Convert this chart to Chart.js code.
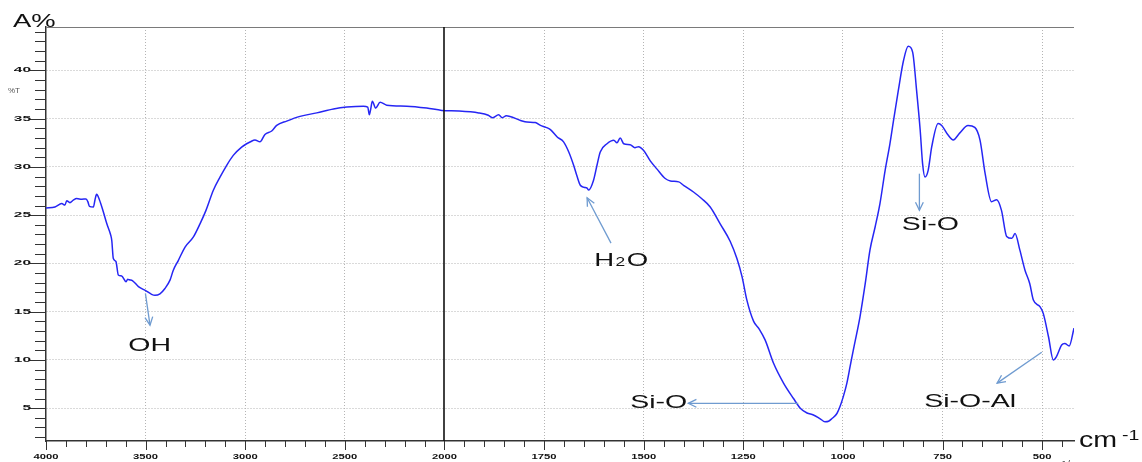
<!DOCTYPE html>
<html>
<head>
<meta charset="utf-8">
<title>FTIR spectrum</title>
<script src="https://cdn.jsdelivr.net/npm/chart.js@4.4.1/dist/chart.umd.min.js"></script>
<style>
  html, body { margin: 0; padding: 0; background: #fff; }
  canvas { display: block; }
</style>
</head>
<body>
<canvas id="ftirChart" width="1142" height="462"></canvas>
<script>
const ctx = document.getElementById('ftirChart').getContext('2d');

// Spectrum: wavenumber (cm-1) and transmittance (%T)
const wavenumbers = [
  4000, 3955, 3921, 3905, 3896, 3880, 3863, 3846, 3820, 3799, 3790, 3782, 3762, 3754, 3746, 3732,
  3712, 3695, 3675, 3670, 3662, 3649, 3637, 3620, 3598, 3590, 3582, 3565, 3536, 3498, 3470, 3453,
  3428, 3403, 3377, 3361, 3336, 3302, 3260, 3227, 3197, 3160, 3126, 3093, 3060, 3018, 2993, 2976,
  2951, 2926, 2901, 2867, 2842, 2792, 2725, 2641, 2557, 2490, 2407, 2385, 2377, 2370, 2362, 2345,
  2323, 2290, 2189, 2089, 2013, 1964, 1914, 1890, 1880, 1864, 1855, 1845, 1809, 1793, 1772, 1759,
  1745, 1734, 1717, 1701, 1688, 1676, 1667, 1659, 1650, 1642, 1638, 1626, 1617, 1609, 1592, 1575,
  1567, 1559, 1550, 1534, 1522, 1513, 1500, 1483, 1467, 1446, 1433, 1412, 1400, 1375, 1354, 1333,
  1308, 1283, 1266, 1253, 1241, 1224, 1210, 1195, 1174, 1149, 1124, 1107, 1090, 1074, 1057, 1045,
  1036, 1028, 1015, 1007, 999, 990, 982, 974, 969, 957, 944, 932, 919, 907, 894, 882,
  873, 861, 848, 836, 825, 815, 806, 800, 794, 786, 777, 761, 752, 736, 723, 707,
  686, 669, 656, 643, 627, 614, 602, 589, 576, 568, 556, 543, 531, 522, 505, 497,
  484, 472, 464, 451, 443, 432, 420
];
const transmittance = [
  25.75, 25.85, 26.2, 26.05, 26.5, 26.3, 26.55, 26.72, 26.65, 26.68, 26.4, 25.92, 25.85, 26.6, 27.16, 26.6,
  25.33, 24.13, 22.92, 22.4, 20.5, 20.2, 18.8, 18.7, 18.1, 18.35, 18.3, 18.2, 17.6, 17.16, 16.8, 16.7,
  16.85, 17.4, 18.3, 19.3, 20.3, 21.7, 22.75, 24.1, 25.5, 27.58, 28.96, 30.17, 31.2, 32.06, 32.4, 32.58,
  32.8, 32.6, 33.37, 33.72, 34.3, 34.75, 35.24, 35.6, 36.0, 36.2, 36.3, 36.2, 35.4, 36.0, 36.8, 36.1,
  36.7, 36.4, 36.3, 36.1, 35.86, 35.8, 35.6, 35.35, 35.1, 35.4, 35.1, 35.3, 34.82, 34.65, 34.6, 34.3,
  34.1, 33.86, 33.1, 32.6, 31.55, 30.2, 29.0, 28.1, 27.9, 27.8, 27.6, 28.6, 30.2, 31.55, 32.4, 32.76,
  32.5, 33.0, 32.4, 32.3, 32.0, 32.1, 31.7, 30.6, 29.8, 28.8, 28.55, 28.45, 28.1, 27.4, 26.7, 25.85,
  24.1, 22.3, 20.5, 18.6, 16.2, 14.0, 13.2, 12.05, 9.65, 7.6, 6.0, 5.0, 4.5, 4.3, 3.9, 3.6,
  3.65, 3.9, 4.45, 5.2, 6.2, 7.6, 9.3, 11.0, 12.0, 14.5, 17.9, 21.4, 23.8, 26.2, 29.65, 32.4,
  34.8, 37.9, 41.0, 42.5, 41.9, 37.9, 33.8, 30.35, 28.96, 29.65, 32.1, 34.5, 34.3, 33.3, 32.8, 33.5,
  34.3, 34.1, 32.8, 29.3, 26.4, 26.6, 25.5, 22.8, 22.6, 23.1, 21.4, 19.3, 17.9, 16.2, 15.5, 14.8,
  12.4, 10.0, 10.35, 11.55, 11.7, 11.45, 13.3
];

const xTickLabels = [4000, 3500, 3000, 2500, 2000, 1750, 1500, 1250, 1000, 750, 500];
const yTickLabels = [5, 10, 15, 20, 25, 30, 35, 40];

// band labels: text anchor and arrow (from -> to), in cm-1 / %T
const bands = [
  { text: 'OH',      at: [3587, 10.94], from: [3501, 16.9], to: [3478, 13.6] },
  { text: 'H2O',     at: [1624, 19.76], from: [1582, 22.1], to: [1642, 26.8] },
  { text: 'Si-O',    at: [852, 23.5],   from: [808, 29.3],  to: [808, 25.5] },
  { text: 'Si-O',    at: [1534, 5.0],   from: [1112, 5.5],  to: [1388, 5.5] },
  { text: 'Si-O-Al', at: [796, 5.08],   from: [501, 10.8],  to: [613, 7.6] }
];

// the wavenumber axis is expanded 2x below 2000 cm-1
function toPos(w) {
  return w >= 2000 ? 4000 - w : 2000 + 2 * (2000 - w);
}

const FONT = '"Liberation Sans", Arial, sans-serif';

function line(c, x1, y1, x2, y2) {
  c.beginPath();
  c.moveTo(x1, y1);
  c.lineTo(x2, y2);
  c.stroke();
}

// the source picture has horizontally stretched lettering
function wideText(c, text, x, y, sx, align) {
  c.save();
  c.translate(x, y);
  c.scale(sx, 1);
  c.textAlign = align;
  c.fillText(text, 0, 0);
  c.restore();
}

function arrow(c, x1, y1, x2, y2) {
  line(c, x1, y1, x2, y2);
  const ang = Math.atan2(y2 - y1, x2 - x1);
  const len = 9, spread = 0.45;
  c.beginPath();
  c.moveTo(x2 - len * Math.cos(ang - spread), y2 - len * Math.sin(ang - spread));
  c.lineTo(x2, y2);
  c.lineTo(x2 - len * Math.cos(ang + spread), y2 - len * Math.sin(ang + spread));
  c.stroke();
}

const spectrumDecor = {
  id: 'spectrumDecor',
  afterDraw(chart) {
    const { ctx: c, chartArea: a, scales: { x, y } } = chart;
    c.save();

    // top frame
    c.strokeStyle = '#7a7a7a';
    c.lineWidth = 1;
    line(c, a.left, a.top + 0.5, a.right, a.top + 0.5);

    // split line at 2000 cm-1
    const xs = Math.round(x.getPixelForValue(toPos(2000)));
    c.strokeStyle = '#111';
    c.lineWidth = 1.6;
    line(c, xs, a.top, xs, a.bottom);

    // major and minor ticks
    c.strokeStyle = '#333';
    c.lineWidth = 1;
    for (let t = 0; t <= x.max; t += 100) {
      const px = Math.round(x.getPixelForValue(t)) + 0.5;
      line(c, px, a.bottom, px, a.bottom + (t % 500 === 0 ? 9 : 6));
    }
    for (let v = 2; v <= 44; v++) {
      const py = Math.round(y.getPixelForValue(v)) + 0.5;
      line(c, a.left, py, a.left - (v % 5 === 0 ? 16 : 11), py);
    }

    // tick labels
    c.fillStyle = '#111';
    c.textBaseline = 'middle';
    c.font = 'bold 7.5px ' + FONT;
    xTickLabels.forEach(w => wideText(c, String(w), x.getPixelForValue(toPos(w)), 457, 1.5, 'center'));
    c.font = 'bold 7px ' + FONT;
    yTickLabels.forEach(v => wideText(c, String(v), 31, y.getPixelForValue(v), 2.2, 'right'));

    // axis titles
    c.textBaseline = 'alphabetic';
    c.fillStyle = '#111';
    c.font = '19px ' + FONT;
    wideText(c, 'A%', 13, 27, 1.44, 'left');
    c.font = '8px ' + FONT;
    c.fillStyle = '#555';
    wideText(c, '%T', 8, 93, 1, 'left');
    c.fillStyle = '#111';
    c.font = '22px ' + FONT;
    wideText(c, 'cm', 1079, 447, 1.3, 'left');
    c.font = '15px ' + FONT;
    wideText(c, '-1', 1122, 440, 1.3, 'left');
    c.font = '9px ' + FONT;
    c.fillStyle = '#444';
    wideText(c, '1/cm', 1061, 467, 1.2, 'left');

    // band arrows and labels
    c.strokeStyle = '#6f9bd0';
    c.lineWidth = 1.3;
    bands.forEach(b => {
      arrow(c,
        x.getPixelForValue(toPos(b.from[0])), y.getPixelForValue(b.from[1]),
        x.getPixelForValue(toPos(b.to[0])), y.getPixelForValue(b.to[1]));
    });
    c.fillStyle = '#111';
    bands.forEach(b => {
      const px = x.getPixelForValue(toPos(b.at[0]));
      const py = y.getPixelForValue(b.at[1]);
      if (b.text === 'H2O') {
        // small "2", sitting on the baseline
        c.save();
        c.translate(px, py);
        c.scale(1.45, 1);
        c.textAlign = 'left';
        c.font = '19px ' + FONT;
        c.fillText('H', 0, 0);
        let off = c.measureText('H').width + 1;
        c.font = '12px ' + FONT;
        c.fillText('2', off, 0);
        off += c.measureText('2').width + 1;
        c.font = '19px ' + FONT;
        c.fillText('O', off, 0);
        c.restore();
      } else {
        c.font = '19px ' + FONT;
        wideText(c, b.text, px, py, 1.5, 'left');
      }
    });

    c.restore();
  }
};

const points = wavenumbers.map((w, i) => ({ x: toPos(w), y: transmittance[i] }));

const ftirChart = new Chart(ctx, {
  type: 'line',
  data: {
    datasets: [{
      data: points,
      borderColor: '#2626f4',
      borderWidth: 1.5,
      pointRadius: 0,
      fill: false,
      cubicInterpolationMode: 'monotone'
    }]
  },
  options: {
    responsive: false,
    animation: false,
    layout: { padding: { left: 0, top: 27, right: 68, bottom: 0 } },
    plugins: {
      legend: { display: false },
      tooltip: { enabled: false }
    },
    scales: {
      x: {
        type: 'linear',
        min: 0,
        max: toPos(420),
        afterBuildTicks: s => { s.ticks = xTickLabels.map(w => ({ value: toPos(w) })); },
        afterFit: s => { s.height = 21; },
        ticks: { display: false },
        grid: {
          drawTicks: false,
          lineWidth: 1,
          color: c => (c.tick && (c.tick.value === 0 || c.tick.value === 2000)) ? 'rgba(0,0,0,0)' : '#b4b4b4'
        },
        border: { display: true, color: '#333', width: 1.5, dash: [1, 2] }
      },
      y: {
        type: 'linear',
        min: 1.6,
        max: 44.5,
        afterBuildTicks: s => { s.ticks = yTickLabels.map(v => ({ value: v })); },
        afterFit: s => { s.width = 46; },
        ticks: { display: false },
        grid: { drawTicks: false, lineWidth: 1, color: '#b4b4b4' },
        border: { display: true, color: '#333', width: 1.5, dash: [1, 2] }
      }
    }
  },
  plugins: [spectrumDecor]
});
</script>
</body>
</html>
